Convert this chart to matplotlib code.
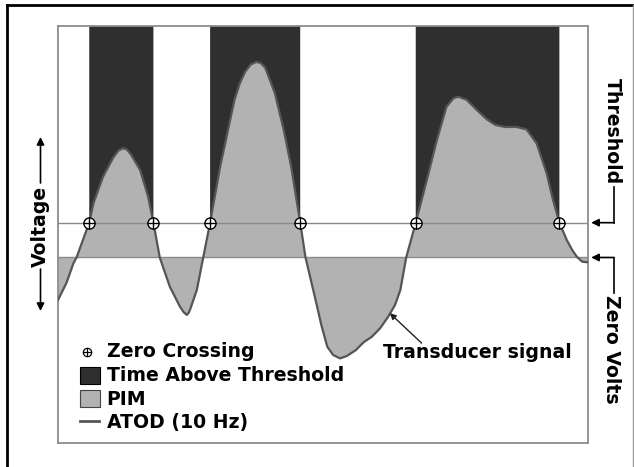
import numpy as np
import matplotlib
matplotlib.use("Agg")
import matplotlib.pyplot as plt
from matplotlib.lines import Line2D
from matplotlib.patches import Rectangle, FancyArrowPatch

# ---- data (time in s, voltage in arbitrary units; threshold = 1) ----
time = [0.00, 0.16, 0.29, 0.35, 0.59, 0.67, 0.85, 1.04, 1.14, 1.23, 1.30, 1.38,
        1.55, 1.70, 1.80, 1.92, 2.11, 2.30, 2.37, 2.43, 2.47, 2.51, 2.62, 2.74,
        2.87, 3.06, 3.33, 3.43, 3.53, 3.64, 3.75, 3.83, 3.91, 4.09, 4.26, 4.40,
        4.57, 4.67, 4.86, 4.97, 5.08, 5.19, 5.32, 5.45, 5.62, 5.77, 5.92, 6.08,
        6.23, 6.36, 6.46, 6.57, 6.75, 6.96, 7.15, 7.33, 7.46, 7.55, 7.71, 7.90,
        8.09, 8.25, 8.43, 8.65, 8.84, 9.03, 9.22, 9.34, 9.46, 9.60, 9.70, 9.79,
        9.89, 10.00]
voltage = [-1.22, -0.73, -0.17, 0.00, 1.00, 1.56, 2.32, 2.86, 3.07, 3.14, 3.10, 2.95,
           2.51, 1.75, 1.00, 0.00, -0.84, -1.41, -1.57, -1.65, -1.58, -1.42, -0.93, 0.00,
           1.00, 2.61, 4.53, 5.00, 5.33, 5.55, 5.62, 5.58, 5.45, 4.73, 3.66, 2.61,
           1.00, 0.00, -1.22, -1.95, -2.56, -2.80, -2.90, -2.83, -2.66, -2.43, -2.28, -2.03,
           -1.70, -1.36, -0.93, 0.00, 1.00, 2.23, 3.38, 4.33, 4.57, 4.62, 4.53, 4.24,
           3.97, 3.81, 3.75, 3.75, 3.68, 3.28, 2.42, 1.65, 1.00, 0.50, 0.22, 0.02,
           -0.12, -0.14]
threshold = 1.0
zero_level = 0.0
crossings = [0.59, 1.80, 2.87, 4.57, 6.75, 9.46]

legend_labels = ["Zero Crossing", "Time Above Threshold", "PIM", "ATOD (10 Hz)"]

# ---- style ----
DARK = "#2f2f2f"
PIM = "#b2b2b2"
LINE = "#555555"
REF = "#8a8a8a"
FONT = dict(family="DejaVu Sans", weight="bold", size=13.6, color="black")

W, H = 634, 467
fig = plt.figure(figsize=(W / 100, H / 100), dpi=100)
fig.patch.set_facecolor("white")


def fx(px):
    return px / W


def fy(py):
    return 1 - py / H


ax = fig.add_axes([fx(58), fy(443), fx(588) - fx(58), fy(26) - fy(443)])
ymin, ymax = -5.33, 6.65
ax.set_xlim(0, 10)
ax.set_ylim(ymin, ymax)

t = np.array(time)
v = np.array(voltage)

# time above threshold (dark)
ax.fill_between(t, v, ymax, where=v >= threshold, interpolate=True,
                color=DARK, linewidth=0, zorder=1)
# PIM (area between signal and zero)
ax.fill_between(t, v, zero_level, color=PIM, linewidth=0, zorder=2)
# reference lines
ax.axhline(threshold, color=REF, lw=1.0, zorder=3)
ax.axhline(zero_level, color=REF, lw=1.0, zorder=3)
# transducer signal
ax.plot(t, v, color=LINE, lw=1.6, zorder=4, solid_joinstyle="round")
# zero crossing markers
cy = [threshold] * len(crossings)
ax.plot(crossings, cy, linestyle="none", marker="o", ms=8, mfc="white",
        mec="black", mew=1.0, zorder=5)
ax.plot(crossings, cy, linestyle="none", marker="+", ms=8, mec="black",
        mew=1.0, zorder=6)

ax.set_xticks([])
ax.set_yticks([])
for s in ax.spines.values():
    s.set_color("#8c8c8c")
    s.set_linewidth(1.3)

# "Transducer signal" annotation
ax.annotate("", xy=(6.26, -1.60), xytext=(6.86, -2.46),
            arrowprops=dict(arrowstyle="-|>", color="#222222", lw=1.0,
                            mutation_scale=9, shrinkA=0, shrinkB=0), zorder=7)
ax.text(6.13, -2.72, "Transducer signal", ha="left", va="center", zorder=7, **FONT)

# ---- legend (drawn manually) ----
rows_y = [357, 381, 405, 428]
for lab, yy in zip(legend_labels, rows_y):
    fig.text(fx(106.7), fy(yy), lab, ha="left", va="baseline", **FONT)
fig.add_artist(Line2D([fx(87)], [fy(352)], marker="o", ms=6, mfc="white",
                      mec="black", mew=0.9, linestyle="none"))
fig.add_artist(Line2D([fx(87)], [fy(352)], marker="+", ms=6, mec="black",
                      mew=0.9, linestyle="none"))
fig.add_artist(Rectangle((fx(79.5), fy(383.5)), fx(100) - fx(79.5), fy(366.5) - fy(383.5),
                         transform=fig.transFigure, facecolor=DARK, edgecolor="black", lw=0.8))
fig.add_artist(Rectangle((fx(79.5), fy(407)), fx(100) - fx(79.5), fy(390) - fy(407),
                         transform=fig.transFigure, facecolor=PIM, edgecolor="#444444", lw=0.8))
fig.add_artist(Line2D([fx(80), fx(98.5)], [fy(421), fy(421)], color=LINE, lw=2.0))

# ---- Voltage label with double arrow ----
fig.text(fx(40.5), fy(226), "Voltage", rotation=90, ha="center", va="center", **FONT)
arrow_kw = dict(arrowstyle="-|>", color="black", lw=1.2, mutation_scale=11,
                shrinkA=0, shrinkB=0)
fig.add_artist(FancyArrowPatch((fx(40.5), fy(183)), (fx(40.5), fy(137)),
                               transform=fig.transFigure, **arrow_kw))
fig.add_artist(FancyArrowPatch((fx(40.5), fy(269)), (fx(40.5), fy(311)),
                               transform=fig.transFigure, **arrow_kw))

# ---- right labels: Threshold / Zero Volts ----
fig.text(fx(612), fy(131), "Threshold", rotation=-90, ha="center", va="center", **FONT)
fig.text(fx(612), fy(349), "Zero Volts", rotation=-90, ha="center", va="center", **FONT)
xc = 614
fig.add_artist(Line2D([fx(xc), fx(xc)], [fy(187), fy(222.7)], color="black", lw=1.2))
fig.add_artist(Line2D([fx(xc), fx(xc)], [fy(257.5), fy(293)], color="black", lw=1.2))
ax.annotate("", xy=(10.06, threshold), xycoords="data",
            xytext=(fx(xc), fy(222.7)), textcoords="figure fraction",
            arrowprops=arrow_kw, annotation_clip=False)
ax.annotate("", xy=(10.06, zero_level), xycoords="data",
            xytext=(fx(xc), fy(257.5)), textcoords="figure fraction",
            arrowprops=arrow_kw, annotation_clip=False)

# ---- outer frame ----
fig.add_artist(Line2D([fx(7), fx(634)], [fy(5), fy(5)], color="black", lw=2.0))
fig.add_artist(Line2D([fx(7), fx(7)], [fy(5), 0], color="black", lw=2.0))
fig.add_artist(Line2D([fx(633), fx(633)], [fy(5), 0], color="#999999", lw=1.0))

fig.savefig("out.png", dpi=100, facecolor="white")
